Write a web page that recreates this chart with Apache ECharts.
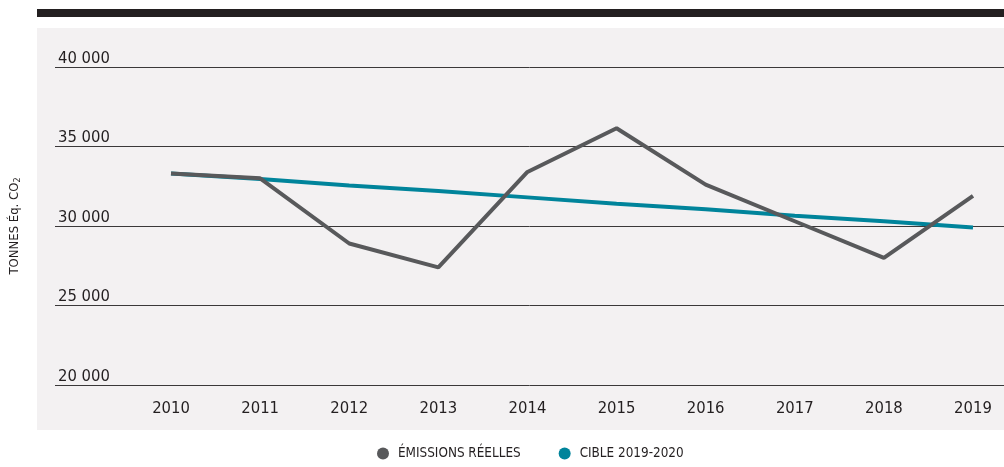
<!DOCTYPE html>
<html>
<head>
<meta charset="utf-8">
<script src="https://cdn.jsdelivr.net/npm/echarts@6/dist/echarts.min.js"></script>
<style>
  html, body { margin: 0; padding: 0; background: #ffffff; }
  #main { width: 1004px; height: 467px; }
</style>
</head>
<body>
<div id="main"></div>
<script>
var years = [2010, 2011, 2012, 2013, 2014, 2015, 2016, 2017, 2018, 2019];
var emissions = [33300, 33000, 28900, 27400, 33400, 36150, 32600, 30300, 28000, 31900];
var cible = [33300, 32950, 32550, 32200, 31800, 31400, 31050, 30650, 30300, 29900];
var yTicks = [20000, 25000, 30000, 35000, 40000];

var FONT = '"DejaVu Sans Condensed", Roboto, sans-serif';

function pairs (vals) {
  var out = [];
  for (var i = 0; i < years.length; i++) {
    out.push([years[i], vals[i]]);
  }
  return out;
}

function spaced (v) {
  return String(v).replace(/\B(?=(\d{3})+(?!\d))/g, ' ');
}

var dom = document.getElementById('main');
var myChart = echarts.init(dom);

var option = {
  animation: false,
  textStyle: { fontFamily: FONT },
  graphic: [
    // panneau gris
    { type: 'rect', z: -10, shape: { x: 37, y: 28, width: 967, height: 402 }, style: { fill: '#f3f1f2' } },
    // barre noire du haut
    { type: 'rect', z: -10, shape: { x: 37, y: 9, width: 967, height: 8 }, style: { fill: '#231f20' } }
  ],
  grid: { left: 55, right: 0, top: 67, bottom: 467 - 385 },
  legend: {
    top: 442,
    left: 372,
    itemWidth: 12,
    itemHeight: 12,
    itemGap: 38,
    icon: 'circle',
    data: ['ÉMISSIONS RÉELLES', 'CIBLE 2019-2020'],
    textStyle: { fontFamily: FONT, fontSize: 13.4, color: '#231f20', padding: [0, 0, 0, 4] }
  },
  xAxis: {
    type: 'value',
    min: 2008.698,
    max: 2019.348,
    axisLine: { show: false },
    axisTick: { show: false },
    splitLine: { show: false },
    axisLabel: {
      customValues: years,
      formatter: function (v) { return String(v); },
      margin: 15,
      fontFamily: FONT,
      fontSize: 16.5,
      color: '#231f20'
    }
  },
  yAxis: {
    type: 'value',
    min: yTicks[0],
    max: yTicks[yTicks.length - 1],
    interval: 5000,
    name: '{a|TONNES Éq. CO}{b|2}',
    nameLocation: 'middle',
    nameRotate: 90,
    nameGap: 33,
    nameTextStyle: {
      rich: {
        a: { fontFamily: FONT, fontSize: 13, color: '#231f20' },
        b: { fontFamily: FONT, fontSize: 9, color: '#231f20', padding: [6, 0, 0, 0] }
      }
    },
    axisLine: { show: false },
    axisTick: { show: false },
    splitLine: { show: true, lineStyle: { color: '#3a3839', width: 1 } },
    axisLabel: {
      inside: true,
      margin: 3,
      verticalAlign: 'bottom',
      formatter: function (v) { return spaced(v); },
      fontFamily: FONT,
      fontSize: 16.5,
      color: '#231f20'
    }
  },
  series: [
    {
      name: 'CIBLE 2019-2020',
      type: 'line',
      data: pairs(cible),
      showSymbol: false,
      symbol: 'none',
      color: '#00849b',
      lineStyle: { width: 4, color: '#00849b' }
    },
    {
      name: 'ÉMISSIONS RÉELLES',
      type: 'line',
      data: pairs(emissions),
      showSymbol: false,
      symbol: 'none',
      color: '#58595b',
      lineStyle: { width: 4, color: '#58595b' }
    }
  ]
};

myChart.setOption(option);
</script>
</body>
</html>
